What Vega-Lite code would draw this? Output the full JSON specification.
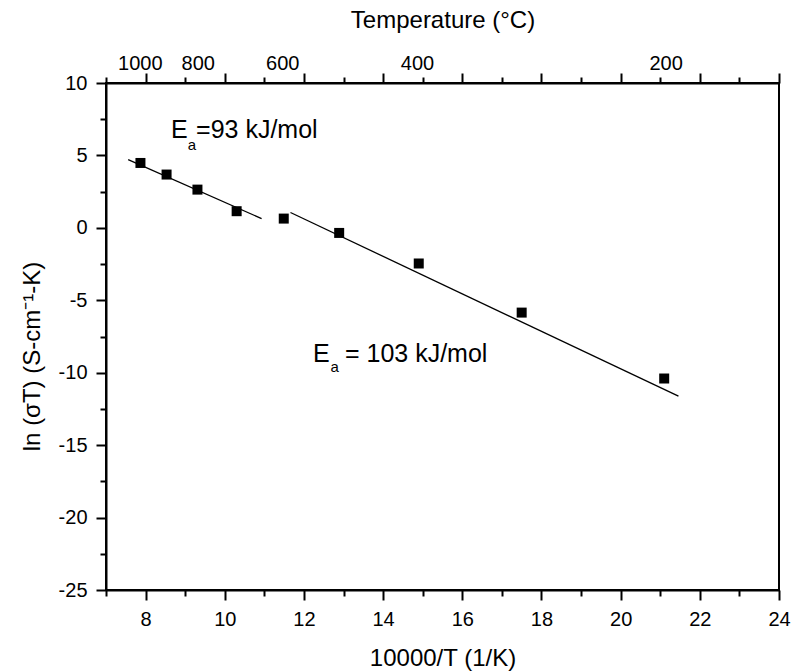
{
  "$schema": "https://vega.github.io/schema/vega-lite/v6.json",
  "width": 673,
  "height": 507,
  "autosize": {"type": "none"},
  "padding": {"left": 106, "top": 83, "right": 13, "bottom": 81},
  "background": "white",
  "config": {
    "view": {"stroke": "black", "strokeWidth": 2},
    "font": "Liberation Sans",
    "axis": {
      "grid": false,
      "domainColor": "black",
      "domainWidth": 2,
      "tickColor": "black",
      "tickWidth": 2,
      "labelColor": "black",
      "labelFont": "Liberation Sans",
      "labelFontSize": 20,
      "labelFlush": false,
      "labelOverlap": false,
      "titleColor": "black",
      "titleFont": "Liberation Sans",
      "titleFontSize": 24,
      "titleFontWeight": "normal"
    }
  },
  "datasets": {
    "points": [
      {"x": 7.87, "y": 4.48},
      {"x": 8.53, "y": 3.68},
      {"x": 9.31, "y": 2.64},
      {"x": 10.30, "y": 1.15},
      {"x": 11.49, "y": 0.64},
      {"x": 12.89, "y": -0.35},
      {"x": 14.9, "y": -2.46},
      {"x": 17.5, "y": -5.85},
      {"x": 21.1, "y": -10.4}
    ],
    "fits": [
      {"seg": "a", "x": 7.56, "y": 4.71},
      {"seg": "a", "x": 10.93, "y": 0.64},
      {"seg": "b", "x": 11.66, "y": 1.06},
      {"seg": "b", "x": 21.46, "y": -11.62}
    ],
    "labels": [
      {"x": 8.64, "y": 6.18, "text": "E"},
      {"x": 9.275, "y": 6.18, "text": "=93 kJ/mol"},
      {"x": 12.227, "y": -9.25, "text": "E"},
      {"x": 13.036, "y": -9.25, "text": "= 103 kJ/mol"}
    ],
    "subs": [
      {"x": 9.066, "y": 5.4, "text": "a"},
      {"x": 12.67, "y": -9.94, "text": "a"}
    ]
  },
  "resolve": {"axis": {"x": "independent", "y": "independent"}},
  "layer": [
    {
      "data": {"name": "points"},
      "mark": {"type": "square", "size": 100, "color": "black", "filled": true, "opacity": 1},
      "encoding": {
        "x": {
          "field": "x", "type": "quantitative",
          "scale": {"domain": [7, 24], "nice": false, "zero": false},
          "axis": {
            "orient": "bottom",
            "title": "10000/T (1/K)",
            "values": [8, 10, 12, 14, 16, 18, 20, 22, 24],
            "tickSize": 10,
            "labelExpr": "'' + datum.value",
            "labelBaseline": "alphabetic",
            "labelPadding": 25,
            "titleBaseline": "alphabetic",
            "titleY": 75
          }
        },
        "y": {
          "field": "y", "type": "quantitative",
          "scale": {"domain": [-25, 10], "nice": false, "zero": false},
          "axis": {
            "orient": "left",
            "title": "ln (σT) (S-cm⁻¹-K)",
            "values": [-25, -20, -15, -10, -5, 0, 5, 10],
            "tickSize": 10,
            "labelExpr": "'' + datum.value",
            "labelPadding": 9,
            "titleBaseline": "alphabetic",
            "titleX": -67,
            "titleY": 273
          }
        }
      }
    },
    {
      "data": {"name": "fits"},
      "mark": {"type": "line", "color": "black", "strokeWidth": 1.3},
      "encoding": {
        "x": {
          "field": "x", "type": "quantitative",
          "axis": {"orient": "bottom", "values": [7, 9, 11, 13, 15, 17, 19, 21, 23], "tickSize": 6, "labels": false, "title": null, "domain": false}
        },
        "y": {
          "field": "y", "type": "quantitative",
          "axis": {"orient": "left", "values": [-22.5, -17.5, -12.5, -7.5, -2.5, 2.5, 7.5], "tickSize": 6, "labels": false, "title": null, "domain": false}
        },
        "detail": {"field": "seg"}
      }
    },
    {
      "data": {"name": "labels"},
      "mark": {"type": "text", "align": "left", "baseline": "alphabetic", "fontSize": 25, "font": "Liberation Sans", "color": "black"},
      "encoding": {
        "x": {
          "field": "x", "type": "quantitative",
          "axis": {"orient": "top", "values": [8, 10, 12, 14, 16, 18, 20, 22, 24], "tickSize": 10, "labels": false, "title": null}
        },
        "y": {"field": "y", "type": "quantitative", "axis": null},
        "text": {"field": "text"}
      }
    },
    {
      "data": {"name": "subs"},
      "mark": {"type": "text", "align": "left", "baseline": "alphabetic", "fontSize": 15, "font": "Liberation Sans", "color": "black"},
      "encoding": {
        "x": {
          "field": "x", "type": "quantitative",
          "axis": {"orient": "top", "values": [7, 9, 11, 13, 15, 17, 19, 21, 23], "tickSize": 6, "labels": false, "title": null, "domain": false}
        },
        "y": {"field": "y", "type": "quantitative", "axis": null},
        "text": {"field": "text"}
      }
    },
    {
      "data": {"name": "points"},
      "mark": {"type": "point", "opacity": 0},
      "encoding": {
        "x": {
          "field": "x", "type": "quantitative",
          "axis": {
            "orient": "top",
            "title": "Temperature (°C)",
            "values": [7.8545, 9.3184, 11.4528, 14.8555, 21.1349],
            "tickSize": 0,
            "ticks": false,
            "domain": false,
            "labelExpr": "'' + round(10000 / datum.value - 273.15)",
            "labelBaseline": "alphabetic",
            "labelPadding": 14,
            "titleBaseline": "alphabetic",
            "titleY": -56
          }
        },
        "y": {"field": "y", "type": "quantitative", "axis": null}
      }
    }
  ]
}
